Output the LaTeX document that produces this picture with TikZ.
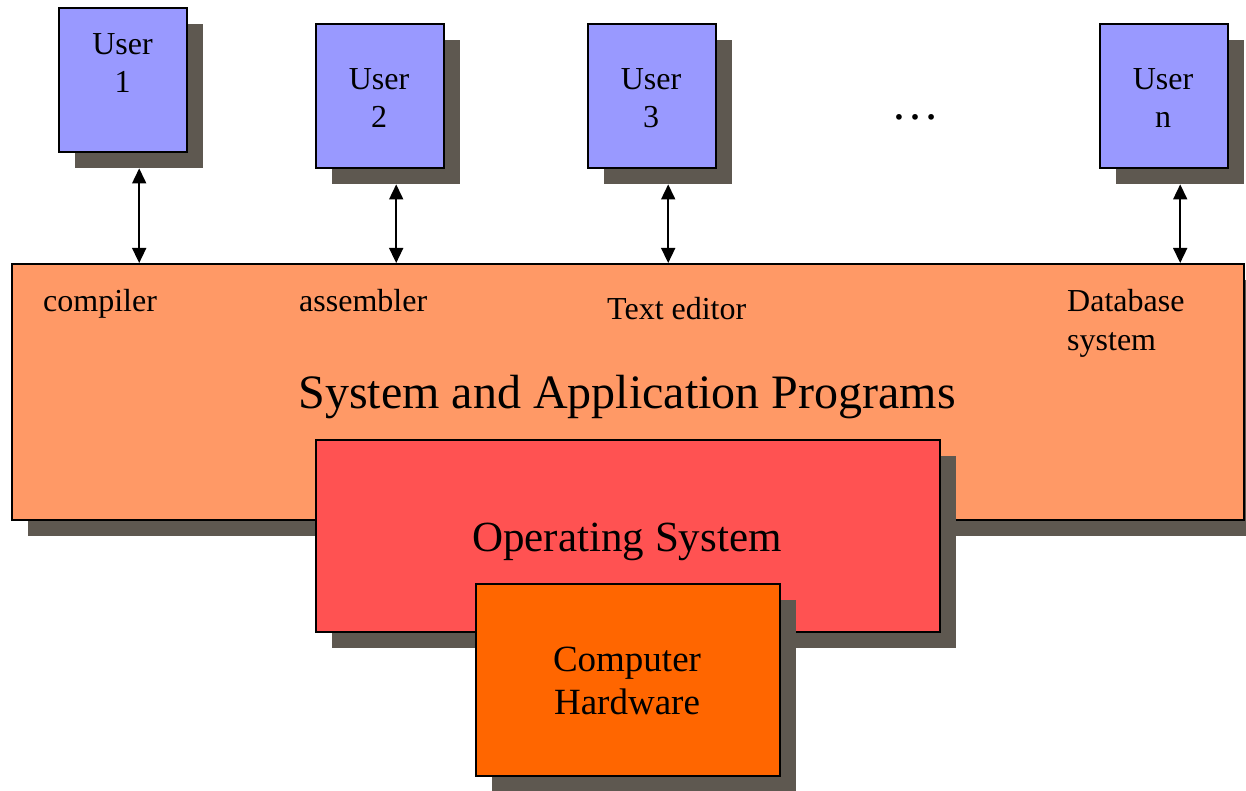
\documentclass[tikz,border=0pt]{standalone}
\usepackage{fontspec}
\setmainfont{Liberation Serif}
\usetikzlibrary{arrows.meta}
\definecolor{userblue}{HTML}{9999FF}
\definecolor{appor}{HTML}{FF9966}
\definecolor{osred}{HTML}{FF5252}
\definecolor{hwor}{HTML}{FF6600}
\definecolor{shadowc}{RGB}{94,88,80}
\begin{document}
\begin{tikzpicture}[x=1pt,y=-1pt,
  box/.style={draw=black, line width=2pt, rectangle, inner sep=0pt, anchor=north west},
  shadebox/.style={fill=shadowc, rectangle, inner sep=0pt, anchor=north west},
  userbox/.style={box, fill=userblue, minimum width=128pt, minimum height=144pt},
  usershade/.style={shadebox, minimum width=128pt, minimum height=144pt},
  usertext/.style={align=center, inner sep=0pt, font=\fontsize{32}{38}\selectfont},
  lbl/.style={inner sep=0pt, font=\fontsize{32}{38}\selectfont},
  conn/.style={line width=1.6pt, {Triangle[length=15pt,width=14pt]}-{Triangle[length=15pt,width=14pt]}}
]
\clip (0,0) rectangle (1246,791);
\fill[white] (0,0) rectangle (1246,791);

% users
\node[usershade] (u1s) at (75,24) {};
\node[userbox] (u1) at (58,7) {};
\node[usertext] (u1t) at (122.5,63) {User\\1};
\node[usershade] (u2s) at (332,40) {};
\node[userbox] (u2) at (315,23) {};
\node[usertext] (u2t) at (379,98) {User\\2};
\node[usershade] (u3s) at (604,40) {};
\node[userbox] (u3) at (587,23) {};
\node[usertext] (u3t) at (651,98) {User\\3};
\node[usershade] (uns) at (1116,40) {};
\node[userbox] (un) at (1099,23) {};
\node[usertext] (unt) at (1163,98) {User\\n};
\node[inner sep=0pt, anchor=base, font=\fontsize{48}{56}\selectfont] (dots) at (915,120) {…};

% application programs
\node[shadebox, minimum width=1232pt, minimum height=256pt] (apps) at (28,280) {};
\node[box, fill=appor, minimum width=1232pt, minimum height=256pt] (app) at (11,263) {};

\draw[conn] (u1s.south) -- (u1s.south |- app.north);
\draw[conn] (u2s.south) -- (u2s.south |- app.north);
\draw[conn] (u3s.south) -- (u3s.south |- app.north);
\draw[conn] (uns.south) -- (uns.south |- app.north);

\node[lbl, anchor=base west] (comp) at (43,312) {compiler};
\node[lbl, anchor=base west] (asm) at (299,312) {assembler};
\node[lbl, anchor=base west] (ted) at (607,319) {Text editor};
\node[lbl, anchor=base west] (db1) at (1067,312) {Database};
\node[lbl, anchor=base west] (db2) at (1067,350) {system};
\node[inner sep=0pt, anchor=base, font=\fontsize{48}{56}\selectfont] (apptxt) at (627,408) {System and Application Programs};

% operating system
\node[shadebox, minimum width=624pt, minimum height=192pt] (oss) at (332,456) {};
\node[box, fill=osred, minimum width=624pt, minimum height=192pt] (os) at (315,439) {};
\node[inner sep=0pt, anchor=base, font=\fontsize{43}{50}\selectfont] (ostxt) at (627,551) {Operating System};

% hardware
\node[shadebox, minimum width=304pt, minimum height=192pt] (hws) at (492,600) {};
\node[box, fill=hwor, minimum width=304pt, minimum height=192pt] (hw) at (475,583) {};
\node[align=center, inner sep=0pt, font=\fontsize{37}{43}\selectfont] (hwtxt) at (627,681) {Computer\\Hardware};
\end{tikzpicture}
\end{document}
